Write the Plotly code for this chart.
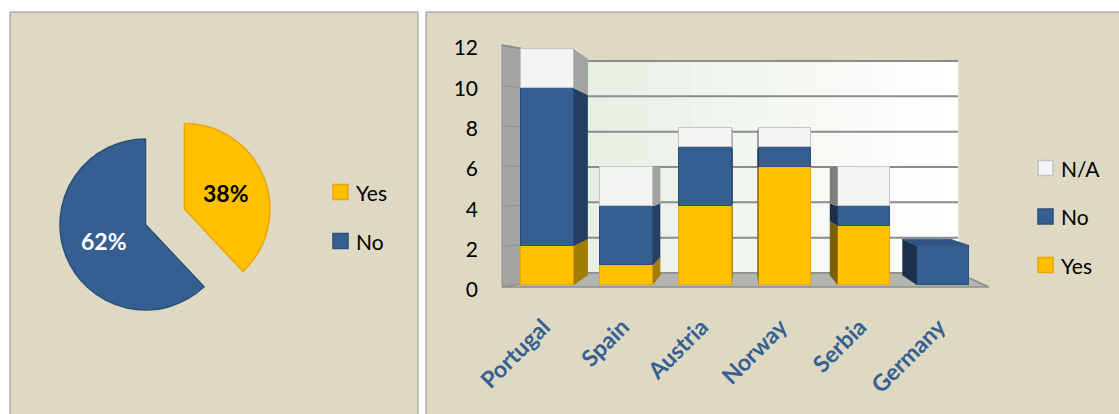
import math
import plotly.graph_objects as go

# ---- data -------------------------------------------------------------
pie_labels = ["Yes", "No"]
pie_values = [38, 62]

countries = ["Portugal", "Spain", "Austria", "Norway", "Serbia", "Germany"]
series_names = ["Yes", "No", "N/A"]
yes_counts = [2, 1, 4, 6, 3, 0]
no_counts = [8, 3, 3, 1, 1, 2]
na_counts = [2, 2, 1, 1, 2, 0]
y_ticks = [0, 2, 4, 6, 8, 10, 12]

# ---- page geometry ----------------------------------------------------
W, H = 1119, 414


def fx(px):
    return px / W


def fy(py):
    return 1 - py / H


PANEL_BG = "#ddd9c3"
PANEL_EDGE = "#8e8e8e"
FONT = "Lato"

# series styling: front, edge, right side, left side, top
STYLE = {
    "Yes": dict(front="#ffc000", edge="#f0a30c", right="#a27e00", left="#7c6000", top="#e2aa00"),
    "No": dict(front="#365f91", edge="#2c4f7a", right="#243f61", left="#1c2f4a", top="#2e5282"),
    "N/A": dict(front="#f4f4f4", edge="#c4c4c4", right="#a3a3a3", left="#7e7e7e", top="#d8d8d8"),
}

# ---- column chart frame (front plane of the columns) ------------------
C0, DX = 547.5, 79.1        # pixel centre of first column, pixel step per column
Y0, DY = 285.0, 19.67       # pixel of value 0, pixels per unit
PL, PR, PT, PB = 430, 1110, 20, 410
BAR_W = 0.664

# column depth: projection toward a vanishing point
VX = (743 - C0) / DX
VY = (Y0 - 168) / DY
K = 0.083

# walls and floor
XL = (502 - C0) / DX
XR = (989 - C0) / DX
WVX = (860 - C0) / DX
WVY = (Y0 - 174) / DY
SX, SY = 0.76, 0.876


def wall_front_y(v):
    return (Y0 - (287 - v * (287 - 45) / 12)) / DY


def label_y(v):
    return (Y0 - (290 - v * (290 - 48) / 12)) / DY


def wall_back(x, y):
    return (WVX + (x - WVX) * SX, WVY + (y - WVY) * SY)


def bar_back(x, y):
    return (x + (VX - x) * K, y + (VY - y) * K)


def path(points):
    return "M" + " L".join(f"{x:.4f},{y:.4f}" for x, y in points) + " Z"


shapes = []
annotations = []

# panels
shapes.append(dict(type="rect", xref="paper", yref="paper", x0=fx(10), x1=fx(418), y0=-0.05, y1=fy(12),
                   fillcolor=PANEL_BG, line=dict(color=PANEL_EDGE, width=1), layer="below"))
shapes.append(dict(type="rect", xref="paper", yref="paper", x0=fx(426), x1=1.05, y0=-0.05, y1=fy(12),
                   fillcolor=PANEL_BG, line=dict(color=PANEL_EDGE, width=1), layer="below"))


def add_poly(points, fill, line_color=None, width=0, layer="below"):
    shapes.append(dict(type="path", xref="x2", yref="y2", path=path(points), fillcolor=fill,
                       line=dict(color=line_color or fill, width=width), layer=layer))


y_lo, y_hi = wall_front_y(0), wall_front_y(y_ticks[-1])

# left wall
add_poly([(XL, y_lo), (XL, y_hi), wall_back(XL, y_hi), wall_back(XL, y_lo)], "#a2a4a1", "#8f918e", 1)

# back wall, shaded from a pale green on the left to white on the right
bx0, by0 = wall_back(XL, y_lo)
bx1, by1 = wall_back(XR, y_hi)
n_strips = 18
c_left, c_right = (232, 239, 228), (255, 255, 255)
for s in range(n_strips):
    t = s / (n_strips - 1)
    col = tuple(round(a + (b - a) * t) for a, b in zip(c_left, c_right))
    xa = bx0 + (bx1 - bx0) * s / n_strips
    xb = bx0 + (bx1 - bx0) * (s + 1) / n_strips
    add_poly([(xa, by0), (xb, by0), (xb, by1), (xa, by1)], "rgb(%d,%d,%d)" % col, width=0.6)

# gridlines on back and left wall
for v in y_ticks:
    fyv = wall_front_y(v)
    p0 = wall_back(XL, fyv)
    p1 = wall_back(XR, fyv)
    shapes.append(dict(type="line", xref="x2", yref="y2", x0=p0[0], y0=p0[1], x1=p1[0], y1=p1[1],
                       line=dict(color="#8c8c8c", width=2), layer="below"))
    if 0 < v < y_ticks[-1]:
        shapes.append(dict(type="line", xref="x2", yref="y2", x0=XL, y0=fyv, x1=p0[0], y1=p0[1],
                           line=dict(color="#8d8f8c", width=1), layer="below"))
p_top = wall_back(XL, y_hi)
shapes.append(dict(type="line", xref="x2", yref="y2", x0=XL, y0=y_hi, x1=p_top[0], y1=p_top[1],
                   line=dict(color="#8c8c8c", width=1.5), layer="below"))

# floor
add_poly([(XL, y_lo), (XR, y_lo), wall_back(XR, y_lo), wall_back(XL, y_lo)], "#b3b6b0", "#8e908c", 1.5)

# ---- column side and top faces ---------------------------------------
idx = list(range(len(countries)))
series = list(zip(series_names, [yes_counts, no_counts, na_counts]))
for i in idx:
    base = 0
    xl, xr = i - BAR_W / 2, i + BAR_W / 2
    top_name = None
    for name, vals in series:
        v = vals[i]
        if v <= 0:
            continue
        b, t = base, base + v
        st = STYLE[name]
        if xr < VX:
            add_poly([(xr, b), (xr, t), bar_back(xr, t), bar_back(xr, b)], st["right"], layer="above")
        if xl > VX:
            add_poly([(xl, b), (xl, t), bar_back(xl, t), bar_back(xl, b)], st["left"], layer="above")
        base = t
        top_name = name
    if top_name and base < VY:
        st = STYLE[top_name]
        add_poly([(xl, base), (xr, base), bar_back(xr, base), bar_back(xl, base)], st["top"],
                 st["edge"], 0.8, layer="above")

# ---- traces -------------------------------------------------------------
fig = go.Figure()

PIE_CX, PIE_CY, PIE_R, PULL = 145.5, 224.5, 85.5, 0.49
half = PIE_R * (1 + PULL)
pie_colors = [STYLE[n]["front"] for n in pie_labels]
pie_edges = [STYLE[n]["edge"] for n in pie_labels]
fig.add_trace(go.Pie(
    labels=pie_labels, values=pie_values, pull=[PULL, 0], sort=False, direction="clockwise",
    rotation=0, textinfo="none", hoverinfo="label+percent", showlegend=False,
    marker=dict(colors=pie_colors, line=dict(color=pie_edges, width=1.5)),
    domain=dict(x=[fx(PIE_CX - half), fx(PIE_CX + half)], y=[fy(PIE_CY + half), fy(PIE_CY - half)]),
))

for name, vals in series:
    st = STYLE[name]
    fig.add_trace(go.Bar(
        x=idx, y=vals, name=name, width=BAR_W, xaxis="x2", yaxis="y2", showlegend=False,
        marker=dict(color=st["front"], line=dict(color=st["edge"], width=1.5)),
        hovertext=countries, hoverinfo="text+y+name",
    ))

# percentage labels on the pie slices
total = sum(pie_values)
cum = 0
pulls = [PULL, 0]
label_colors = ["#000000", "#ffffff"]
for k, v in enumerate(pie_values):
    mid = math.radians((cum + v / 2) / total * 360)
    dist = (pulls[k] + 0.52) * PIE_R
    px_ = PIE_CX + dist * math.sin(mid)
    py_ = PIE_CY - dist * math.cos(mid)
    annotations.append(dict(x=fx(px_), y=fy(py_), xref="paper", yref="paper", showarrow=False,
                            xanchor="center", yanchor="middle",
                            text=f"{v / total * 100:.0f}%",
                            font=dict(family=FONT, size=23, color=label_colors[k], weight="bold")))
    cum += v


# legend keys
def legend_entry(cx, cy, name):
    st = STYLE[name]
    shapes.append(dict(type="rect", xref="paper", yref="paper",
                       x0=fx(cx - 7.5), x1=fx(cx + 7.5), y0=fy(cy + 7.5), y1=fy(cy - 7.5),
                       fillcolor=st["front"], line=dict(color=st["edge"], width=1.5), layer="above"))
    annotations.append(dict(x=fx(cx + 13), y=fy(cy), xref="paper", yref="paper", showarrow=False,
                            xanchor="left", yanchor="middle", text=name,
                            font=dict(family=FONT, size=21, color="#000000")))


for k, name in enumerate(pie_labels):
    legend_entry(340.5, 192 + 49 * k, name)
for k, name in enumerate(reversed(series_names)):
    legend_entry(1045.5, 168 + 48.5 * k, name)

fig.update_layout(
    width=W, height=H, autosize=False,
    margin=dict(l=0, r=0, t=0, b=0),
    paper_bgcolor="#ffffff", plot_bgcolor="rgba(0,0,0,0)",
    barmode="stack", bargap=0, showlegend=False,
    shapes=shapes, annotations=annotations,
    xaxis2=dict(domain=[fx(PL), fx(PR)], range=[(PL - C0) / DX, (PR - C0) / DX], anchor="free",
                position=fy(308), tickvals=idx, ticktext=countries, tickangle=-45, ticks="",
                ticklabelshift=-4,
                showgrid=False, zeroline=False, showline=False, fixedrange=True,
                tickfont=dict(family=FONT, size=23, color="#376092", weight="bold")),
    yaxis2=dict(domain=[fy(PB), fy(PT)], range=[(Y0 - PB) / DY, (Y0 - PT) / DY], anchor="free",
                position=fx(478), tickvals=[label_y(v) for v in y_ticks],
                ticktext=[str(v) for v in y_ticks], ticks="", showgrid=False, zeroline=False,
                showline=False, fixedrange=True, tickfont=dict(family=FONT, size=21, color="#000000")),
)

fig.write_html("out.html")
